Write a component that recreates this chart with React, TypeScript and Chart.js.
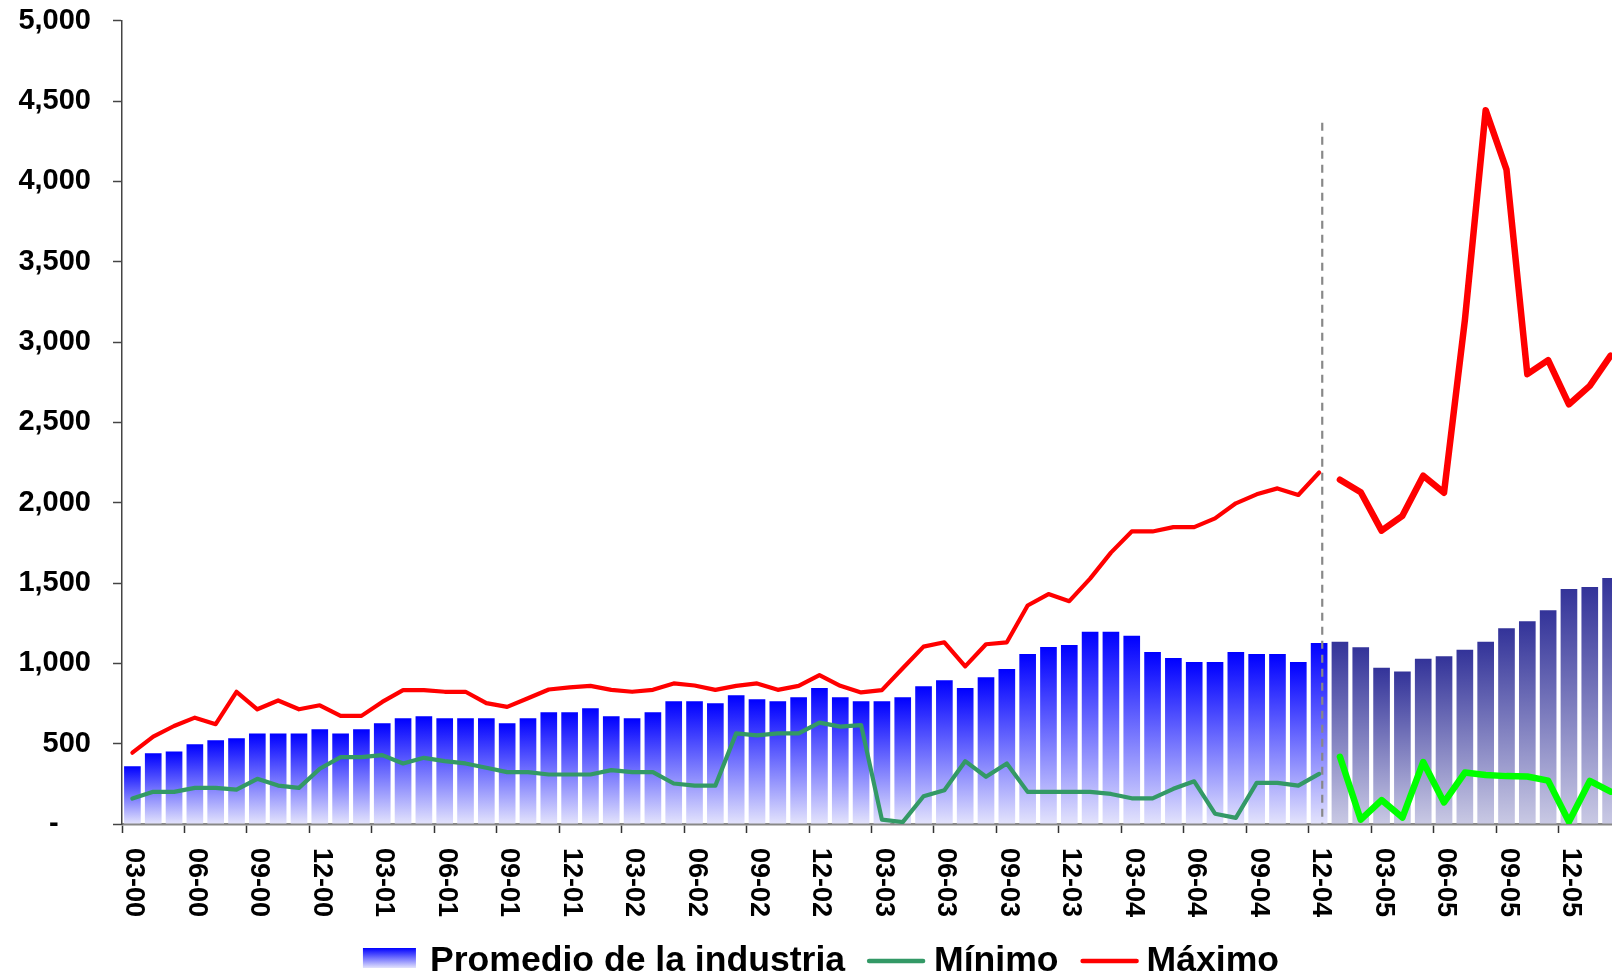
import React, { useEffect, useRef } from 'react';
import { Chart, registerables } from 'chart.js';

Chart.register(...registerables);

// ---- Data ----
const months = [
  '03-00', '04-00', '05-00', '06-00', '07-00', '08-00', '09-00', '10-00', '11-00', '12-00',
  '01-01', '02-01', '03-01', '04-01', '05-01', '06-01', '07-01', '08-01', '09-01', '10-01', '11-01', '12-01',
  '01-02', '02-02', '03-02', '04-02', '05-02', '06-02', '07-02', '08-02', '09-02', '10-02', '11-02', '12-02',
  '01-03', '02-03', '03-03', '04-03', '05-03', '06-03', '07-03', '08-03', '09-03', '10-03', '11-03', '12-03',
  '01-04', '02-04', '03-04', '04-04', '05-04', '06-04', '07-04', '08-04', '09-04', '10-04', '11-04', '12-04',
  '01-05', '02-05', '03-05', '04-05', '05-05', '06-05', '07-05', '08-05', '09-05', '10-05', '11-05', '12-05',
  '01-06', '02-06',
];

const promedio = [
  360, 440, 452, 496, 521, 533, 564, 564, 564, 589,
  564, 589, 627, 658, 670, 658, 658, 658, 627, 658, 695, 695,
  720, 670, 658, 695, 764, 764, 752, 802, 777, 764, 789, 846,
  789, 764, 764, 789, 858, 895, 846, 914, 964, 1058, 1102, 1114,
  1196, 1196, 1171, 1071, 1033, 1008, 1008, 1071, 1058, 1058, 1008, 1127,
  1135, 1100, 973, 949, 1029, 1044, 1085, 1135, 1218, 1262, 1330, 1463,
  1475, 1531,
];

const minimo = [
  158, 200, 200, 225, 225, 214, 281, 239, 225, 344,
  416, 416, 429, 377, 412, 391, 377, 350, 323, 323, 308, 308,
  308, 335, 323, 323, 252, 239, 239, 564, 552, 564, 564, 631,
  606, 616, 27, 12, 173, 210, 391, 294, 377, 200, 200, 200,
  200, 187, 160, 160, 219, 266, 64, 38, 256, 256, 239, 312,
  418, 27, 149, 40, 386, 134, 320, 305, 298, 296, 270, 14,
  268, 201,
];

const maximo = [
  444, 544, 610, 662, 621, 823, 714, 769, 714, 739,
  673, 673, 760, 833, 833, 823, 823, 752, 729, 783, 837, 850,
  860, 835, 823, 835, 875, 862, 835, 860, 875, 835, 860, 927,
  860, 819, 833, 969, 1104, 1131, 981, 1119, 1131, 1360, 1431, 1387,
  1527, 1689, 1821, 1821, 1848, 1848, 1902, 1996, 2052, 2089, 2048, 2188,
  2143, 2065, 1826, 1918, 2168, 2062, 3135, 4443, 4073, 2800, 2887, 2612,
  2727, 2915,
];

const SPLIT_INDEX = 58; // first month of the second period (01-05)
const DIVIDER_POS = 57.15; // category position of the dashed separator
const DIVIDER_TOP_VALUE = 4365;

const legendLabels = ['Promedio de la industria', 'Mínimo', 'Máximo'];

// ---- Styles ----
const FONT = '"Liberation Sans", Arial, Helvetica, sans-serif';
const BAR1_TOP = '#0000FF';
const BAR1_BOTTOM = '#E3E3FC';
const BAR2_TOP = '#333399';
const BAR2_BOTTOM = '#C9C9E4';
const MIN1_COLOR = '#339966';
const MIN2_COLOR = '#00FF00';
const MAX_COLOR = '#FF0000';

const pre = (arr: number[]) => arr.map((v, i) => (i < SPLIT_INDEX ? v : null));
const post = (arr: number[]) => arr.map((v, i) => (i >= SPLIT_INDEX ? v : null));

const gradientFill = (top: string, bottom: string) => (ctx: any) => {
  const chart = ctx.chart;
  const yScale = chart.scales && chart.scales.y;
  const v = ctx.raw;
  if (!yScale || v == null || ctx.type !== 'data') return top;
  const y0 = yScale.getPixelForValue(v);
  const y1 = yScale.getPixelForValue(0);
  if (!isFinite(y0) || !isFinite(y1) || Math.abs(y1 - y0) < 1) return top;
  const g = chart.ctx.createLinearGradient(0, y0, 0, y1);
  g.addColorStop(0, top);
  g.addColorStop(1, bottom);
  return g;
};

const xLabelPlugin = {
  id: 'xLabels',
  afterDraw(chart: any) {
    const x = chart.scales.x;
    const ctx = chart.ctx;
    ctx.save();
    ctx.font = `bold 27px ${FONT}`;
    ctx.fillStyle = '#000';
    ctx.textAlign = 'left';
    ctx.textBaseline = 'middle';
    months.forEach((m, i) => {
      if (i % 3 !== 0) return;
      const px = x.getPixelForValue(i) + 1.5;
      ctx.save();
      ctx.translate(px, x.top + 24);
      ctx.rotate(Math.PI / 2);
      ctx.fillText(m, 0, 0);
      ctx.restore();
    });
    ctx.restore();
  },
};

const dividerPlugin = {
  id: 'divider',
  afterDatasetsDraw(chart: any) {
    const x = chart.scales.x;
    const y = chart.scales.y;
    const ctx = chart.ctx;
    const px = x.getPixelForValue(DIVIDER_POS);
    ctx.save();
    ctx.strokeStyle = '#888888';
    ctx.lineWidth = 2.2;
    ctx.setLineDash([8, 6]);
    ctx.beginPath();
    ctx.moveTo(px, y.getPixelForValue(DIVIDER_TOP_VALUE));
    ctx.lineTo(px, y.getPixelForValue(0));
    ctx.stroke();
    ctx.restore();
  },
};

const legendPlugin = {
  id: 'customLegend',
  afterDraw(chart: any) {
    const ctx = chart.ctx;
    ctx.save();
    ctx.font = `bold 35.6px ${FONT}`;
    ctx.textBaseline = 'alphabetic';
    ctx.textAlign = 'left';
    const boxW = 53, boxH = 20, lineW = 58;
    const w0 = ctx.measureText(legendLabels[0]).width;
    const w1 = ctx.measureText(legendLabels[1]).width;
    const w2 = ctx.measureText(legendLabels[2]).width;
    const total = boxW + 14 + w0 + 22 + lineW + 9 + w1 + 22 + lineW + 8 + w2;
    const centerX = 821;
    const baseY = 971;
    let cx = centerX - total / 2;
    // box
    const g = ctx.createLinearGradient(0, baseY - 23, 0, baseY - 23 + boxH);
    g.addColorStop(0, BAR1_TOP);
    g.addColorStop(1, BAR1_BOTTOM);
    ctx.fillStyle = g;
    ctx.fillRect(cx, baseY - 23, boxW, boxH);
    cx += boxW + 14;
    ctx.fillStyle = '#000';
    ctx.fillText(legendLabels[0], cx, baseY);
    cx += w0 + 22;
    ctx.lineCap = 'round';
    ctx.lineWidth = 4.5;
    ctx.strokeStyle = MIN1_COLOR;
    ctx.beginPath();
    ctx.moveTo(cx + 2, baseY - 10);
    ctx.lineTo(cx + lineW - 2, baseY - 10);
    ctx.stroke();
    cx += lineW + 9;
    ctx.fillText(legendLabels[1], cx, baseY);
    cx += w1 + 22;
    ctx.strokeStyle = MAX_COLOR;
    ctx.beginPath();
    ctx.moveTo(cx + 2, baseY - 10);
    ctx.lineTo(cx + lineW - 2, baseY - 10);
    ctx.stroke();
    cx += lineW + 8;
    ctx.fillText(legendLabels[2], cx, baseY);
    ctx.restore();
  },
};

export default function App() {
  const canvasRef = useRef<HTMLCanvasElement | null>(null);

  useEffect(() => {
    if (!canvasRef.current) return;
    const lineCommon = {
      type: 'line' as const,
      pointRadius: 0,
      pointHoverRadius: 0,
      tension: 0,
      borderCapStyle: 'round' as const,
      borderJoinStyle: 'round' as const,
      spanGaps: false,
      fill: false,
      order: 0,
    };
    const chart = new Chart(canvasRef.current, {
      type: 'bar',
      data: {
        labels: months,
        datasets: [
          { ...lineCommon, label: 'Máximo', data: pre(maximo), borderColor: MAX_COLOR, borderWidth: 4.2 },
          { ...lineCommon, label: 'Máximo 2005', data: post(maximo), borderColor: MAX_COLOR, borderWidth: 6.5 },
          { ...lineCommon, label: 'Mínimo', data: pre(minimo), borderColor: MIN1_COLOR, borderWidth: 4.2 },
          { ...lineCommon, label: 'Mínimo 2005', data: post(minimo), borderColor: MIN2_COLOR, borderWidth: 6.5 },
          {
            type: 'bar',
            label: 'Promedio de la industria',
            data: pre(promedio),
            backgroundColor: gradientFill(BAR1_TOP, BAR1_BOTTOM),
            borderWidth: 0,
            grouped: false,
            categoryPercentage: 1,
            barPercentage: 0.8,
            order: 1,
          } as any,
          {
            type: 'bar',
            label: 'Promedio 2005',
            data: post(promedio),
            backgroundColor: gradientFill(BAR2_TOP, BAR2_BOTTOM),
            borderWidth: 0,
            grouped: false,
            categoryPercentage: 1,
            barPercentage: 0.8,
            order: 1,
          } as any,
        ],
      },
      options: {
        responsive: false,
        animation: false,
        devicePixelRatio: 1,
        layout: { autoPadding: false, padding: { left: 0, right: 4, top: 20.7, bottom: 52 } },
        plugins: {
          legend: { display: false },
          tooltip: { enabled: false },
        },
        scales: {
          x: {
            type: 'category',
            offset: true,
            grid: {
              offset: true,
              drawOnChartArea: false,
              drawTicks: true,
              tickLength: 9,
              tickWidth: 1.5,
              tickColor: (ctx: any) => (typeof ctx.index === 'number' && ctx.index % 3 === 0 ? '#333333' : 'rgba(0,0,0,0)'),
            },
            border: { display: true, color: '#888888', width: 2.5 },
            ticks: { display: false, autoSkip: false },
            afterFit: (scale: any) => {
              scale.height = 100;
              scale.paddingLeft = 0;
              scale.paddingRight = 0;
            },
          },
          y: {
            type: 'linear',
            min: 0,
            max: 5000,
            grid: {
              drawOnChartArea: false,
              drawTicks: true,
              tickLength: 9,
              tickWidth: 1.5,
              tickColor: '#444444',
            },
            border: { display: true, color: '#444444', width: 1.5 },
            ticks: {
              stepSize: 500,
              padding: 22,
              color: '#000',
              font: { family: FONT, size: 29, weight: 'bold' },
              callback: (v: any) => (Number(v) === 0 ? '-    ' : Number(v).toLocaleString('en-US')),
            },
            afterFit: (scale: any) => {
              scale.width = 122;
              scale.paddingTop = 0;
              scale.paddingBottom = 0;
            },
          },
        },
      } as any,
      plugins: [dividerPlugin, xLabelPlugin, legendPlugin],
    });
    return () => chart.destroy();
  }, []);

  return (
    <div style={{ position: 'fixed', left: 0, top: 0, width: '100vw', height: '100vh', overflow: 'hidden', background: '#fff' }}>
      <canvas ref={canvasRef} width={1625} height={976} style={{ display: 'block' }} />
    </div>
  );
}
